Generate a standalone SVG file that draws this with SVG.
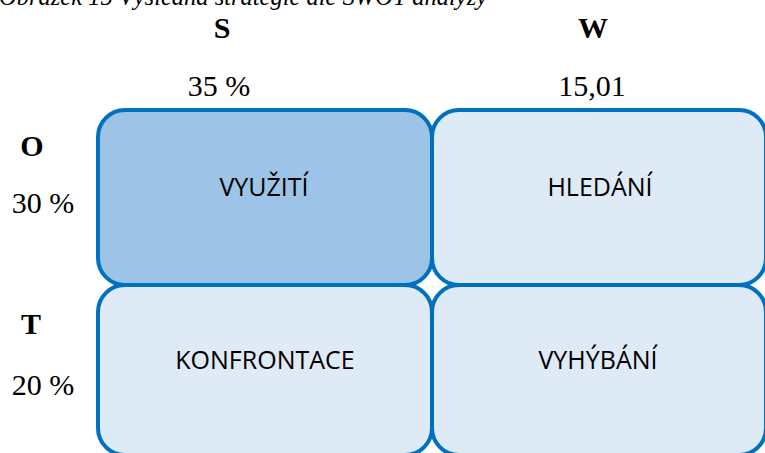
<svg xmlns="http://www.w3.org/2000/svg" width="765" height="453" viewBox="0 0 765 453">
  <style>
    .cell { stroke: #0070C0; stroke-width: 4; }
    .strong { fill: #9DC3E6; }
    .light { fill: #DEEBF7; }
    .lbl { font-family: "Open Sans", "Liberation Sans", sans-serif; font-size: 25px; fill: #000; text-anchor: middle; }
    .head { font-family: "Liberation Serif", serif; font-weight: bold; font-size: 30px; fill: #000; text-anchor: middle; }
    .pct { font-family: "Liberation Serif", serif; font-size: 30px; fill: #000; text-anchor: middle; }
    .cap { font-family: "Liberation Serif", serif; font-style: italic; font-size: 24.5px; fill: #000; }
  </style>

  <rect width="765" height="453" fill="#FFFFFF"/>

  <text class="cap" x="-1" y="5">Obrázek 15 Výsledná strategie dle SWOT analýzy</text>

  <!-- column and row headings -->
  <text class="head" x="222" y="38">S</text>
  <text class="head" x="593" y="38">W</text>
  <text class="pct" x="219" y="96">35 %</text>
  <text class="pct" x="592" y="96">15,01</text>
  <text class="head" x="32" y="156">O</text>
  <text class="pct" x="43" y="213">30 %</text>
  <text class="head" x="31" y="334">T</text>
  <text class="pct" x="43" y="395">20 %</text>

  <g id="vyuziti">
    <rect class="cell strong" x="98" y="110" width="334" height="175" rx="27" ry="27"/>
    <text class="lbl" x="264" y="196">VYUŽITÍ</text>
  </g>
  <g id="hledani">
    <rect class="cell light" x="432" y="110" width="334" height="175" rx="27" ry="27"/>
    <text class="lbl" x="600" y="196">HLEDÁNÍ</text>
  </g>
  <g id="konfrontace">
    <rect class="cell light" x="98" y="285" width="334" height="170" rx="27" ry="27"/>
    <text class="lbl" x="265" y="369">KONFRONTACE</text>
  </g>
  <g id="vyhybani">
    <rect class="cell light" x="432" y="285" width="334" height="170" rx="27" ry="27"/>
    <text class="lbl" x="598" y="369">VYHÝBÁNÍ</text>
  </g>

  <g id="connectors"></g>
</svg>
